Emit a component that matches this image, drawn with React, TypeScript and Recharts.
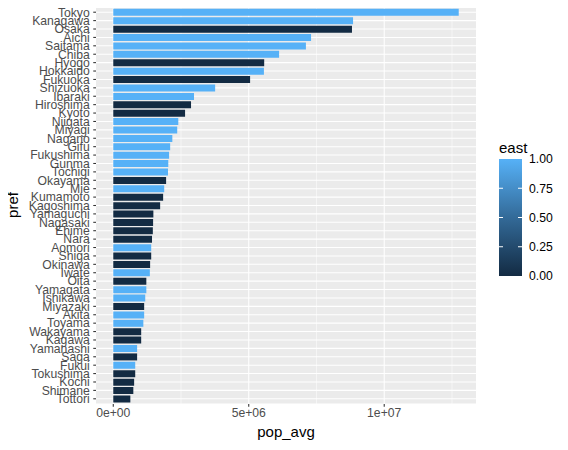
import React from 'react';
import { BarChart, Bar, XAxis, YAxis, CartesianGrid, Cell } from 'recharts';

// prefectures sorted by average population
const prefs = [
  'Tokyo', 'Kanagawa', 'Osaka', 'Aichi', 'Saitama', 'Chiba', 'Hyogo', 'Hokkaido', 'Fukuoka', 'Shizuoka',
  'Ibaraki', 'Hiroshima', 'Kyoto', 'Niigata', 'Miyagi', 'Nagano', 'Gifu', 'Fukushima', 'Gunma', 'Tochigi',
  'Okayama', 'Mie', 'Kumamoto', 'Kagoshima', 'Yamaguchi', 'Nagasaki', 'Ehime', 'Nara', 'Aomori', 'Shiga',
  'Okinawa', 'Iwate', 'Oita', 'Yamagata', 'Ishikawa', 'Miyazaki', 'Akita', 'Toyama', 'Wakayama', 'Kagawa',
  'Yamanashi', 'Saga', 'Fukui', 'Tokushima', 'Kochi', 'Shimane', 'Tottori',
];
const popAvg = [
  12750000, 8850000, 8810000, 7300000, 7110000, 6120000, 5570000, 5560000, 5050000, 3760000,
  2980000, 2870000, 2650000, 2400000, 2360000, 2180000, 2100000, 2060000, 2030000, 2020000,
  1950000, 1880000, 1840000, 1730000, 1480000, 1470000, 1460000, 1430000, 1400000, 1400000,
  1360000, 1350000, 1220000, 1220000, 1180000, 1140000, 1140000, 1110000, 1030000, 1030000,
  880000, 880000, 810000, 810000, 770000, 740000, 630000,
];
const east = [
  1, 1, 0, 1, 1, 1, 0, 1, 0, 1,
  1, 0, 0, 1, 1, 1, 1, 1, 1, 1,
  0, 1, 0, 0, 0, 0, 0, 0, 1, 0,
  0, 1, 0, 1, 1, 0, 1, 1, 0, 0,
  1, 0, 1, 0, 0, 0, 0,
];
const xMajor = [0, 5000000, 10000000];
const xMajorLabels = ['0e+00', '5e+06', '1e+07'];
const xMinor = [2500000, 7500000, 12500000];
const legendTicks = [0, 0.25, 0.5, 0.75, 1];
const legendLabels = ['0.00', '0.25', '0.50', '0.75', '1.00'];

const LOW = [0x13, 0x2b, 0x43];
const HIGH = [0x56, 0xb1, 0xf7];
const eastColour = (v: number) =>
  'rgb(' + LOW.map((c, i) => Math.round(c + (HIGH[i] - c) * v)).join(',') + ')';

const data = prefs.map((p, i) => ({ pref: p, pop: popAvg[i], east: east[i] }));

const maxPop = Math.max(...popAvg);
const pad = maxPop * 0.05;
const domain: [number, number] = [-pad, maxPop + pad];

const W = 568;
const H = 450;
const M = { top: 7, right: 92, bottom: 0, left: 0 };
const Y_AXIS_W = 96;
const FONT = '"Liberation Sans", Arial, sans-serif';
const TICK_FS = 12.2;

function gridXs(values: number[]) {
  return (props: any) => {
    const sc = props?.xAxis?.scale;
    if (typeof sc === 'function') return values.map(v => sc(v));
    const o = props.offset;
    return values.map(v => o.left + ((v - domain[0]) / (domain[1] - domain[0])) * o.width);
  };
}

function ColourBar() {
  const x = 499, w = 23, y0 = 276, y1 = 159;
  const yOf = (v: number) => y0 + (y1 - y0) * v;
  return (
    <svg width={W} height={H} style={{ position: 'absolute', left: 0, top: 0, pointerEvents: 'none' }}>
      <defs>
        <linearGradient id="eastGrad" x1="0" y1="1" x2="0" y2="0">
          <stop offset="0" stopColor={eastColour(0)} />
          <stop offset="0.5" stopColor="#336A98" />
          <stop offset="1" stopColor={eastColour(1)} />
        </linearGradient>
      </defs>
      <text x={499} y={153} fontSize={15} fontFamily={FONT} fill="#000">east</text>
      <rect x={x} y={y1} width={w} height={y0 - y1} fill="url(#eastGrad)" />
      {legendTicks.map((t, i) => (
        <g key={i}>
          {t > 0 && t < 1 && (
            <>
              <line x1={x} x2={x + 4} y1={yOf(t)} y2={yOf(t)} stroke="#fff" strokeWidth={1} />
              <line x1={x + w - 4} x2={x + w} y1={yOf(t)} y2={yOf(t)} stroke="#fff" strokeWidth={1} />
            </>
          )}
          <text x={529} y={yOf(t)} dy="0.35em" fontSize={TICK_FS} fontFamily={FONT} fill="#000">
            {legendLabels[i]}
          </text>
        </g>
      ))}
      <text x={286} y={437} textAnchor="middle" fontSize={15} fontFamily={FONT} fill="#000">pop_avg</text>
      <text x={18} y={205} textAnchor="middle" fontSize={15} fontFamily={FONT} fill="#000"
        transform="rotate(-90 18 205)">pref</text>
    </svg>
  );
}

export default function App() {
  return (
    <div style={{ position: 'relative', width: W, height: H, margin: -8, background: '#fff', fontFamily: FONT }}>
      <BarChart width={W} height={H} data={data} layout="vertical" margin={M} barCategoryGap="10%">
        <CartesianGrid fill="#EBEBEB" stroke="#FFFFFF" strokeWidth={1.07}
          verticalCoordinatesGenerator={gridXs(xMajor)} />
        <CartesianGrid stroke="#FFFFFF" strokeWidth={0.53} horizontal={false}
          verticalCoordinatesGenerator={gridXs(xMinor)} />
        <XAxis type="number" domain={domain} allowDataOverflow ticks={xMajor}
          tickFormatter={(v: number) => xMajorLabels[xMajor.indexOf(v)] ?? String(v)}
          axisLine={false} tickSize={2.74} tickMargin={2}
          tickLine={{ stroke: '#333333', strokeWidth: 1.07 }}
          tick={{ fill: '#4D4D4D', fontSize: TICK_FS, fontFamily: FONT }} height={46} />
        <YAxis type="category" dataKey="pref" width={Y_AXIS_W} interval={0}
          axisLine={false} tickSize={2.74} tickMargin={3.5} padding={{ top: 1, bottom: 1 }}
          tickLine={{ stroke: '#333333', strokeWidth: 1.07 }}
          tick={{ fill: '#4D4D4D', fontSize: TICK_FS, fontFamily: FONT }} />
        <Bar dataKey="pop" isAnimationActive={false}>
          {data.map((d, i) => <Cell key={i} fill={eastColour(d.east)} />)}
        </Bar>
      </BarChart>
      <ColourBar />
    </div>
  );
}
